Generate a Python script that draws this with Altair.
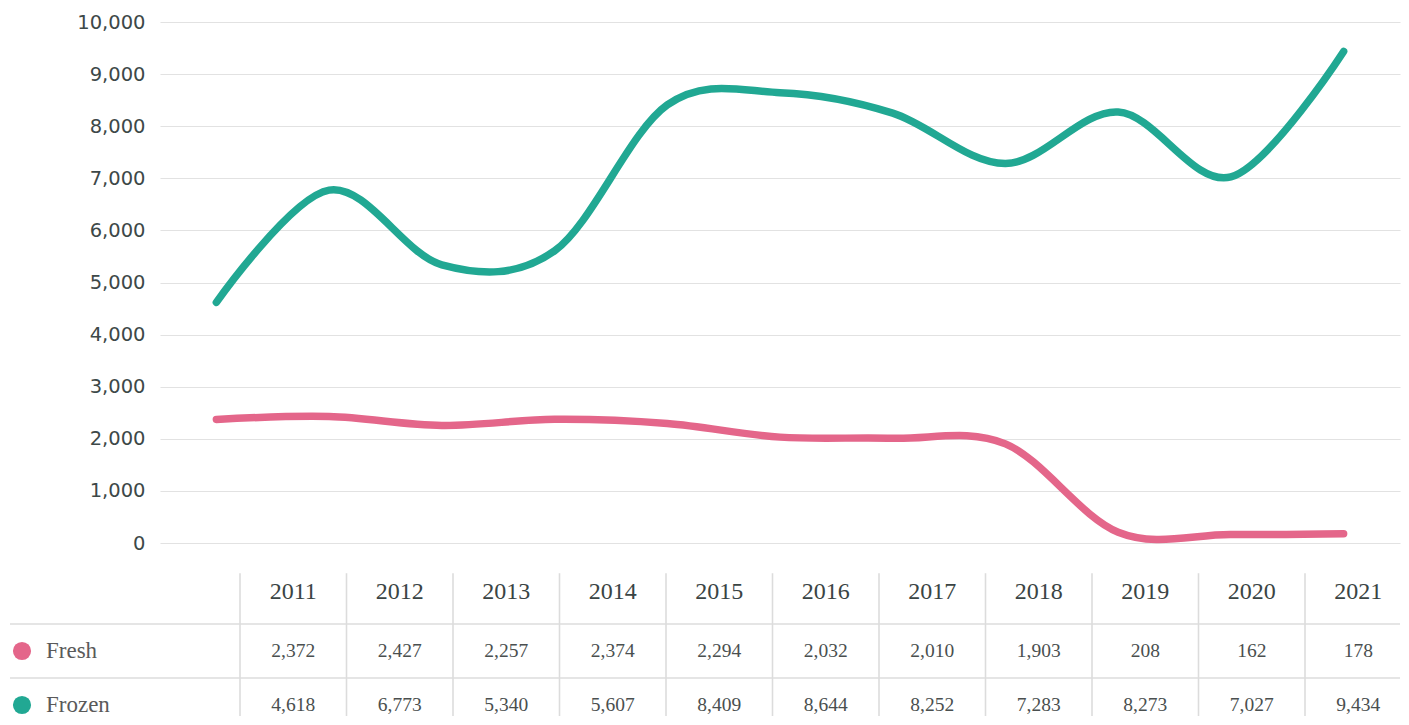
import altair as alt
import pandas as pd

# ---- data ----
years = [2011, 2012, 2013, 2014, 2015, 2016, 2017, 2018, 2019, 2020, 2021]
fresh = [2372, 2427, 2257, 2374, 2294, 2032, 2010, 1903, 208, 162, 178]
frozen = [4618, 6773, 5340, 5607, 8409, 8644, 8252, 7283, 8273, 7027, 9434]
series_names = ["Fresh", "Frozen"]
series_colors = ["#e4668a", "#21a893"]
y_ticks = list(range(0, 10001, 1000))

# ---- layout constants (pixels) ----
W, H = 1240, 694
PAD_LEFT, PAD_TOP = 152, 14
# y (line) : value 10000 at top, 0 at 521 px below top
px_per_unit = 521 / 10000
y_min = -(H - 521) / px_per_unit
# table x: column boundary k at 80 + 106.5*k px from plot left
col_w = 106.5
c_min = -80 / col_w
c_max = (W - 80) / col_w
# table y: row r centre at 575 + 54*r px from plot top
row_h = 54
r_top = 575
r_min = -r_top / row_h
r_max = (H - r_top) / row_h

line_df = pd.DataFrame({
    "year": years * 2,
    "value": fresh + frozen,
    "series": ["Fresh"] * len(years) + ["Frozen"] * len(years),
})

color_scale = alt.Scale(domain=series_names, range=series_colors)

lines = alt.Chart(line_df).mark_line(
    interpolate="cardinal", strokeWidth=7.5, strokeCap="round", strokeJoin="round"
).encode(
    x=alt.X("year:O", scale=alt.Scale(type="point", padding=0.5), axis=None),
    y=alt.Y(
        "value:Q",
        scale=alt.Scale(domain=[y_min, 10000], nice=False, zero=False),
        axis=alt.Axis(
            values=y_ticks, labelExpr="format(datum.value, ',')", grid=True,
            domain=False, ticks=False,
            labelPadding=15, labelFont="DejaVu Sans", labelFontSize=19.5,
            labelColor="#3d4848", gridColor="#e2e2e2", gridWidth=1.2, title=None,
        ),
    ),
    color=alt.Color("series:N", scale=color_scale, legend=None),
)

tx = alt.Scale(domain=[c_min, c_max], nice=False, zero=False)
ty = alt.Scale(domain=[r_min, r_max], nice=False, zero=False, reverse=True)

# table content
hdr_df = pd.DataFrame({"c": [i + 0.5 for i in range(len(years))], "r": [-0.1] * len(years),
                       "label": [str(y) for y in years]})
val_df = pd.DataFrame({
    "c": [i + 0.5 for i in range(len(years))] * 2,
    "r": [1] * len(years) + [2] * len(years),
    "value": fresh + frozen,
})
legend_df = pd.DataFrame({"series": series_names, "r": [1, 2]})

hrule_df = pd.DataFrame({"r": [0.5, 1.5], "c0": [-230 / col_w] * 2, "c1": [c_max] * 2})
vrule_df = pd.DataFrame({"c": list(range(len(years))), "r0": [-0.44] * len(years),
                         "r1": [r_max] * len(years)})

hrules = alt.Chart(hrule_df).mark_rule(color="#dcdcdc", strokeWidth=1.6).encode(
    x=alt.X("c0:Q", scale=tx, axis=None), x2="c1:Q",
    y=alt.Y("r:Q", scale=ty, axis=None),
)
vrules = alt.Chart(vrule_df).mark_rule(color="#dcdcdc", strokeWidth=1.6).encode(
    x=alt.X("c:Q", scale=tx, axis=None),
    y=alt.Y("r0:Q", scale=ty, axis=None), y2="r1:Q",
)
hdr = alt.Chart(hdr_df).mark_text(
    font="Liberation Serif", fontSize=24, color="#3a4444", baseline="middle", align="center"
).encode(
    x=alt.X("c:Q", scale=tx, axis=None), y=alt.Y("r:Q", scale=ty, axis=None), text="label:N"
)
vals = alt.Chart(val_df).mark_text(
    font="Liberation Serif", fontSize=19.5, color="#4a4f4f", baseline="middle", align="center"
).encode(
    x=alt.X("c:Q", scale=tx, axis=None), y=alt.Y("r:Q", scale=ty, axis=None),
    text=alt.Text("value:Q", format=","),
)
dots = alt.Chart(legend_df).mark_circle(size=330, opacity=1).encode(
    x=alt.X("cd:Q", scale=tx, axis=None), y=alt.Y("r:Q", scale=ty, axis=None),
    color=alt.Color("series:N", scale=color_scale, legend=None),
).transform_calculate(cd=str(-218 / col_w))
labels = alt.Chart(legend_df).mark_text(
    font="Liberation Serif", fontSize=23, color="#5a5a5a", baseline="middle", align="left"
).encode(
    x=alt.X("cl:Q", scale=tx, axis=None), y=alt.Y("r:Q", scale=ty, axis=None),
    text="series:N",
).transform_calculate(cl=str(-194 / col_w))

chart = alt.layer(lines, hrules, vrules, hdr, vals, dots, labels).resolve_scale(
    x="independent", y="independent"
).properties(
    width=W, height=H,
    autosize=alt.AutoSizeParams(type="none"),
    padding={"left": PAD_LEFT, "top": PAD_TOP, "right": 1, "bottom": 0},
).configure_view(stroke=None)

chart.save("out.html", embed_options={"renderer": "svg", "actions": False})
